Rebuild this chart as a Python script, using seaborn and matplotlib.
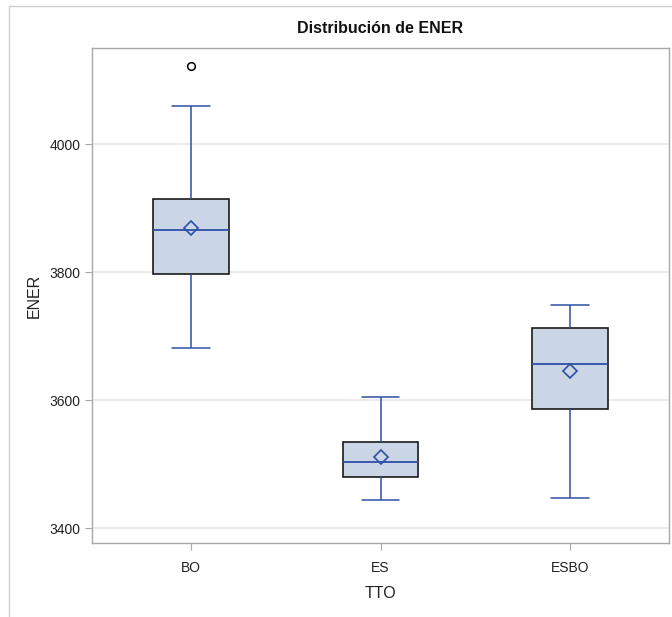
import numpy as np
import pandas as pd
import matplotlib
matplotlib.use("Agg")
import matplotlib.pyplot as plt
import seaborn as sns
from matplotlib.lines import Line2D

groups = ["BO", "ES", "ESBO"]
ener_bo = [3681, 3700, 3797, 3800, 3866, 3882, 3914, 4059, 4122]
ener_es = [3444, 3460, 3480, 3490, 3503, 3520, 3534, 3563, 3605]
ener_esbo = [3448, 3560, 3587, 3640, 3656, 3706, 3712, 3748, 3748]
y_ticks = [3400, 3600, 3800, 4000]

df = pd.DataFrame({
    "TTO": ["BO"] * len(ener_bo) + ["ES"] * len(ener_es) + ["ESBO"] * len(ener_esbo),
    "ENER": ener_bo + ener_es + ener_esbo,
})

sns.set_theme(style="white")
plt.rcParams["font.family"] = ["Liberation Sans", "DejaVu Sans"]

fig = plt.figure(figsize=(6.72, 6.17), dpi=100)
ax = fig.add_axes([92 / 672, 1 - 543 / 617, (669 - 92) / 672, (543 - 48) / 617])

line_c = "#2F4FA6"
sns.boxplot(
    data=df, x="TTO", y="ENER", order=groups, ax=ax, width=0.4,
    color="#CAD5E5", whis=1.5, showmeans=True,
    boxprops=dict(facecolor="#CAD5E5", edgecolor="#1A1A1A", linewidth=1.2),
    whiskerprops=dict(color=line_c, linewidth=1.1),
    capprops=dict(color=line_c, linewidth=1.1),
    medianprops=dict(color=line_c, linewidth=1.3),
    meanprops=dict(marker="D", markerfacecolor="none", markeredgecolor=line_c,
                   markersize=7, markeredgewidth=1.2),
    flierprops=dict(marker="o", markerfacecolor="none", markeredgecolor="black",
                    markersize=5.5, markeredgewidth=1.1),
)

ax.set_xlim(-0.525, 2.525)
ax.set_ylim(3377, 4150)
ax.set_yticks(y_ticks)
ax.set_yticklabels([str(v) for v in y_ticks])
ax.yaxis.grid(True, color="#E8E8E8", linewidth=1.2)
ax.set_axisbelow(True)
for s in ax.spines.values():
    s.set_color("#A8A8A8")
    s.set_linewidth(1.0)
ax.tick_params(axis="both", which="both", direction="out", length=5, width=0.8,
               color="#A8A8A8", labelsize=10, labelcolor="#222222",
               left=True, bottom=True)
ax.tick_params(axis="x", pad=8)
ax.tick_params(axis="y", pad=3)
ax.set_xlabel("TTO", fontsize=11.5, color="#222222", labelpad=8)
ax.set_ylabel("ENER", fontsize=11.5, color="#222222", labelpad=6)
ax.set_title("Distribución de ENER", fontsize=11.5, fontweight="bold", color="#111111", pad=11)

# outer frame lines of the output
fig.add_artist(Line2D([9 / 672, 9 / 672], [0, 1 - 6 / 617], transform=fig.transFigure,
                      color="#CFCFCF", linewidth=1.0))
fig.add_artist(Line2D([9 / 672, 1], [1 - 6 / 617, 1 - 6 / 617], transform=fig.transFigure,
                      color="#CFCFCF", linewidth=1.0))

fig.savefig("out.png", dpi=100)
